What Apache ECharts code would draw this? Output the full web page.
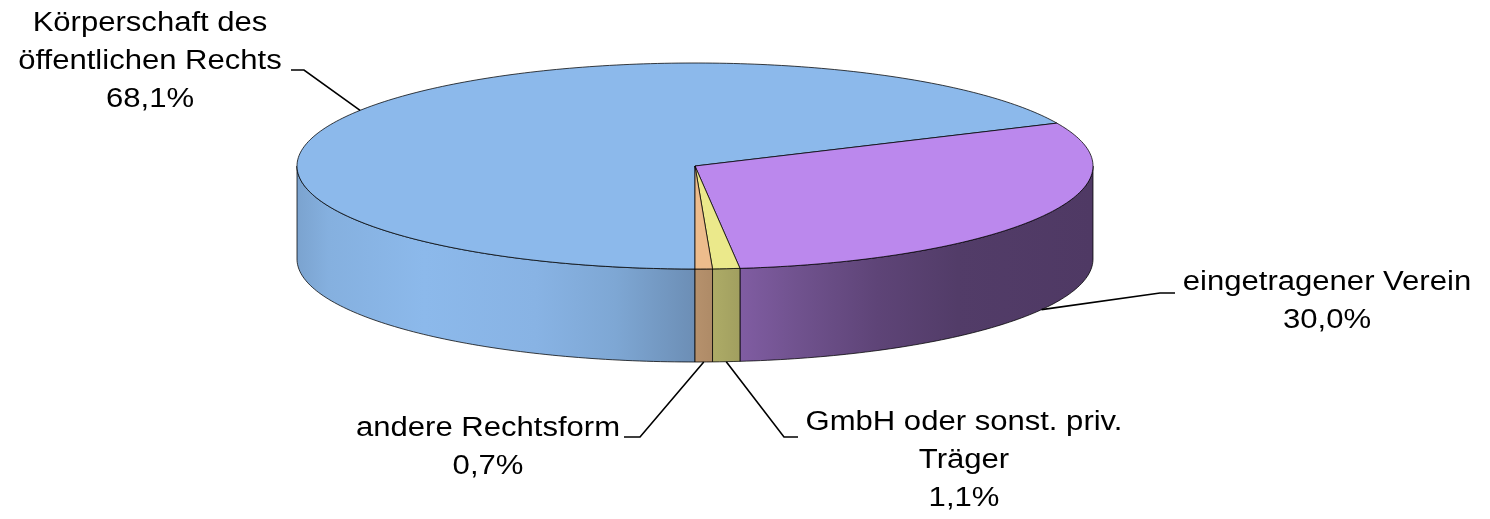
<!DOCTYPE html>
<html>
<head>
<meta charset="utf-8">
<title>Rechtsform</title>
<style>
  html, body { margin: 0; padding: 0; background: #fff; }
  #chart { width: 1490px; height: 519px; }
</style>
<script src="https://cdn.jsdelivr.net/npm/echarts@6.0.0/dist/echarts.min.js"></script>
</head>
<body>
<div id="chart"></div>
<script>
// data (Anteile in %)
var categories = ['Körperschaft des\nöffentlichen Rechts', 'eingetragener Verein', 'GmbH oder sonst. priv.\nTräger', 'andere Rechtsform'];
var shares = [68.1, 30.0, 1.1, 0.7];
var colors = ['#8cb9eb', '#bb88ed', '#ebe98b', '#edbc8c'];

// 3D-Torte: Mittelpunkt, Radien, Höhe
var CX = 695, CY = 166, RX = 398, RY = 103, DEPTH = 93;
var START = 90; // letzter Sektor endet genau unten

// Schattierung der Seitenwand (links hell, rechts dunkel)
var shade = [[0, 0.88], [0.04, 0.95], [0.16, 1.0], [0.3, 0.97], [0.4, 0.9], [0.5, 0.77],
  [0.56, 0.68], [0.63, 0.6], [0.73, 0.5], [0.83, 0.44], [1, 0.42]];

// Beschriftungen: Mitte des Textblocks + Knick der Führungslinie
var labelLayout = [
  { x: 150, y: 62, elbow: [[291, 70], [304, 70]] },
  { x: 1327, y: 302, elbow: [[1175, 293], [1160, 293]] },
  { x: 964, y: 461, elbow: [[798, 437], [784, 437]] },
  { x: 488, y: 448, elbow: [[624, 437], [640, 437]] }
];

var total = shares.reduce(function (s, v) { return s + v; }, 0);
var angles = [];
var acc = START;
shares.forEach(function (v) {
  var span = v / total * 360;
  angles.push([acc, acc + span]);
  acc += span;
});

function pt(deg, dy) {
  var r = deg * Math.PI / 180;
  return [CX + RX * Math.cos(r), CY + RY * Math.sin(r) + dy];
}

function arc(a, b, dy) {
  var pts = [];
  var n = Math.max(2, Math.ceil(Math.abs(b - a)));
  for (var k = 0; k <= n; k++) pts.push(pt(a + (b - a) * k / n, dy));
  return pts;
}

function shadeColor(hex, f) {
  var c = echarts.color.parse(hex);
  return 'rgb(' + Math.round(c[0] * f) + ',' + Math.round(c[1] * f) + ',' + Math.round(c[2] * f) + ')';
}

function sideFill(hex) {
  return {
    type: 'linear', x: CX - RX, y: 0, x2: CX + RX, y2: 0, global: true,
    colorStops: shade.map(function (s) { return { offset: s[0], color: shadeColor(hex, s[1]) }; })
  };
}

// sichtbarer (vorderer) Teil eines Sektors: Winkel 0..180 bzw. 360..540
function frontParts(a, b) {
  var res = [];
  [[0, 180], [360, 540]].forEach(function (w) {
    var lo = Math.max(a, w[0]), hi = Math.min(b, w[1]);
    if (hi > lo) res.push([lo, hi]);
  });
  return res;
}

function renderSide(params, api) {
  var i = params.dataIndex;
  var parts = frontParts(angles[i][0], angles[i][1]);
  var children = parts.map(function (p) {
    var pts = arc(p[0], p[1], 0).concat(arc(p[1], p[0], DEPTH));
    return {
      type: 'polygon',
      shape: { points: pts },
      style: { fill: sideFill(colors[i]), stroke: 'rgba(0,0,0,0.75)', lineWidth: 1 }
    };
  });
  return { type: 'group', children: children };
}

function renderTop(params, api) {
  var i = params.dataIndex;
  var pts = [[CX, CY]].concat(arc(angles[i][0], angles[i][1], 0));
  return {
    type: 'polygon',
    shape: { points: pts },
    style: { fill: colors[i], stroke: 'rgba(0,0,0,0.75)', lineWidth: 1 }
  };
}

function renderLabel(params, api) {
  var i = params.dataIndex;
  var mid = (angles[i][0] + angles[i][1]) / 2;
  var anchor = Math.sin(mid * Math.PI / 180) > 0.05 ? pt(mid, DEPTH) : pt(mid, 0);
  var lay = labelLayout[i];
  var txt = categories[i] + '\n' + shares[i].toFixed(1).replace('.', ',') + '%';
  return {
    type: 'group',
    children: [
      {
        type: 'polyline',
        shape: { points: lay.elbow.concat([anchor]) },
        style: { stroke: '#000', lineWidth: 1.6, fill: null }
      },
      {
        type: 'text',
        x: lay.x, y: lay.y, scaleX: 1.15,
        style: {
          text: txt, x: 0, y: 0,
          fill: '#000',
          font: '27px "Liberation Sans", Arial, sans-serif',
          lineHeight: 38,
          align: 'center', verticalAlign: 'middle'
        }
      }
    ]
  };
}

var seriesData = shares.map(function (v, i) { return { name: categories[i], value: v }; });

var myChart = echarts.init(document.getElementById('chart'));

var option = {
  animation: false,
  series: [
    { type: 'custom', coordinateSystem: 'none', z: 2, renderItem: renderSide, data: seriesData, silent: true },
    { type: 'custom', coordinateSystem: 'none', z: 3, renderItem: renderTop, data: seriesData, silent: true },
    { type: 'custom', coordinateSystem: 'none', z: 4, renderItem: renderLabel, data: seriesData, silent: true }
  ]
};

myChart.setOption(option);
</script>
</body>
</html>
